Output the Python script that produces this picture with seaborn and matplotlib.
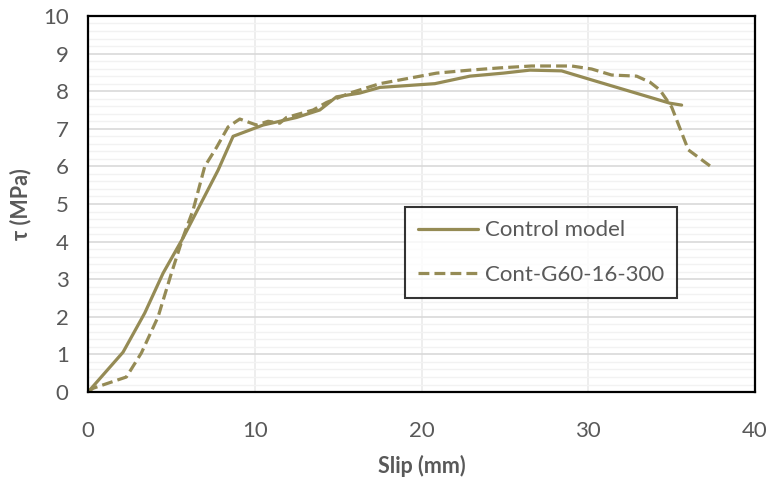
import numpy as np
import pandas as pd
import matplotlib
matplotlib.use("Agg")
import matplotlib.pyplot as plt
import seaborn as sns
from matplotlib.ticker import MultipleLocator

# data (slip in mm, bond stress in MPa)
control_slip = [0, 2.1, 3.4, 4.5, 5.7, 7.8, 8.7, 10.5, 12.5, 13.9, 14.9, 16.3, 17.5,
                20.8, 22.9, 24.9, 26.5, 28.4, 30.2, 34.9, 35.6]
control_tau = [0, 1.06, 2.1, 3.16, 4.1, 5.9, 6.8, 7.1, 7.3, 7.5, 7.85, 7.95, 8.1,
               8.2, 8.4, 8.48, 8.56, 8.54, 8.3, 7.68, 7.63]

g60_slip = [0, 0.3, 2.3, 3.2, 4.2, 5.0, 5.7, 6.3, 7.0, 7.7, 8.4, 9.1, 10.1, 10.8, 11.5,
            11.9, 13.5, 14.3, 15.7, 17.5, 20.9, 22.9, 24.7, 26.6, 29.0, 30.2, 31.4,
            32.9, 33.7, 34.3, 35.0, 36.0, 37.4]
g60_tau = [0, 0.1, 0.4, 1.04, 2.0, 3.16, 4.12, 4.84, 6.0, 6.5, 7.05, 7.26, 7.1, 7.2, 7.15,
           7.3, 7.5, 7.7, 7.95, 8.2, 8.48, 8.56, 8.62, 8.67, 8.67, 8.59, 8.43,
           8.4, 8.24, 8.03, 7.58, 6.44, 5.98]

labels = ["Control model", "Cont-G60-16-300"]
line_color = "#958B55"

df_control = pd.DataFrame({"slip": control_slip, "tau": control_tau})
df_g60 = pd.DataFrame({"slip": g60_slip, "tau": g60_tau})

sns.set_style("white")
plt.rcParams["font.family"] = ["Lato", "DejaVu Sans"]

fig = plt.figure(figsize=(7.77, 4.84), dpi=100)
ax = fig.add_axes([0.1133, 0.19, 0.8584, 0.777])

sns.lineplot(data=df_control, x="slip", y="tau", sort=False, ax=ax, color=line_color,
             linewidth=2.3, label=labels[0])
sns.lineplot(data=df_g60, x="slip", y="tau", sort=False, ax=ax, color=line_color,
             linewidth=2.3, linestyle=(0, (3.4, 1.6)), label=labels[1])

ax.set_xlim(0, 40)
ax.set_ylim(0, 10)
ax.xaxis.set_major_locator(MultipleLocator(10))
ax.yaxis.set_major_locator(MultipleLocator(1))
ax.yaxis.set_minor_locator(MultipleLocator(0.2))

# excel style grid
ax.grid(True, which="major", axis="y", color="#D9D9D9", linewidth=1.2)
ax.grid(True, which="minor", axis="y", color="#F2F2F2", linewidth=1.0)
ax.grid(True, which="major", axis="x", color="#EBEBEB", linewidth=1.2)
ax.set_axisbelow(True)

for s in ax.spines.values():
    s.set_visible(True)
    s.set_color("black")
    s.set_linewidth(1.6)

ax.tick_params(axis="both", which="both", length=0, labelsize=16, labelcolor="#595959")
ax.tick_params(axis="x", pad=21)
ax.tick_params(axis="y", pad=14)

ax.set_xlabel("Slip (mm)", fontsize=15.5, fontweight="bold", color="#595959", labelpad=10)
ax.set_ylabel("τ (MPa)", fontsize=15.5, fontweight="bold", color="#595959", labelpad=8)

leg = ax.legend(loc="upper left", bbox_to_anchor=(0.475, 0.492), borderaxespad=0,
                fontsize=16, frameon=True, fancybox=False, edgecolor="black",
                handlelength=2.7, handletextpad=0.3, labelspacing=1.1, borderpad=0.6)
leg.get_frame().set_linewidth(1.5)
for t in leg.get_texts():
    t.set_color("#595959")

fig.savefig("out.png", dpi=100)
